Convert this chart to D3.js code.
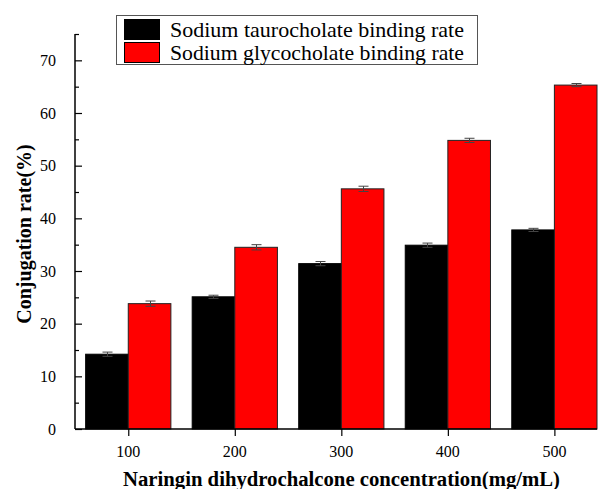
<!DOCTYPE html>
<html>
<head>
<meta charset="utf-8">
<script src="https://cdn.jsdelivr.net/npm/d3@7/dist/d3.min.js"></script>
<style>
  html, body { margin: 0; padding: 0; background: #fff; }
  svg { display: block; }
</style>
</head>
<body>
<svg id="chart" width="600" height="489"></svg>
<script>
// Naringin dihydrochalcone concentrations (mg/mL)
const concentrations = [100, 200, 300, 400, 500];
// Binding rates (%) and their standard deviations
const taurocholate = [14.2, 25.1, 31.4, 34.9, 37.8];
const taurocholateErr = [0.4, 0.3, 0.4, 0.4, 0.3];
const glycocholate = [23.8, 34.5, 45.6, 54.8, 65.3];
const glycocholateErr = [0.5, 0.5, 0.5, 0.4, 0.3];
const seriesNames = ["Sodium taurocholate binding rate", "Sodium glycocholate binding rate"];
const seriesColors = ["#000000", "#ff0000"];
const yMajorTicks = [0, 10, 20, 30, 40, 50, 60, 70];
const yMinorTicks = [5, 15, 25, 35, 45, 55, 65, 75];
const xTitle = "Naringin dihydrochalcone concentration(mg/mL)";
const yTitle = "Conjugation rate(%)";

const serif = "'Liberation Serif', 'Times New Roman', serif";
const svg = d3.select("#chart");
const plotLeft = 75, plotRight = 597, plotTop = 34, plotBottom = 429;
const barW = 40; // bar width in concentration units

const x = d3.scaleLinear().domain([50, 540]).range([plotLeft, plotRight]);
const y = d3.scaleLinear().domain([0, 75]).range([plotBottom, plotTop]);

const series = [
  { name: seriesNames[0], color: seriesColors[0], values: taurocholate, err: taurocholateErr, offset: -barW, stroke: "#000" },
  { name: seriesNames[1], color: seriesColors[1], values: glycocholate, err: glycocholateErr, offset: 0, stroke: "#222" }
];

// Bars
series.forEach(s => {
  svg.append("g").selectAll("rect")
    .data(concentrations.map((c, i) => ({ c, v: s.values[i], e: s.err[i] })))
    .join("rect")
    .attr("x", d => x(d.c + s.offset))
    .attr("y", d => y(d.v))
    .attr("width", d => x(d.c + s.offset + barW) - x(d.c + s.offset))
    .attr("height", d => y(0) - y(d.v))
    .attr("fill", s.color)
    .attr("stroke", s.stroke)
    .attr("stroke-width", 1);
});

// Error bars
series.forEach(s => {
  const g = svg.append("g").attr("stroke", "#444").attr("stroke-width", 1).attr("fill", "none");
  concentrations.forEach((c, i) => {
    const cx = Math.round(x(c + s.offset + barW / 2)) + 0.5;
    const y1 = y(s.values[i] + s.err[i]), y2 = y(s.values[i] - s.err[i]);
    g.append("line").attr("x1", cx).attr("x2", cx).attr("y1", y1).attr("y2", y2);
    g.append("line").attr("x1", cx - 5).attr("x2", cx + 5).attr("y1", y1).attr("y2", y1);
    g.append("line").attr("x1", cx - 5).attr("x2", cx + 5).attr("y1", y2).attr("y2", y2);
  });
});

// Y axis (ticks point inward)
svg.append("g").attr("transform", `translate(${plotLeft},0)`)
  .call(d3.axisRight(y).tickValues(yMajorTicks).tickSize(7).tickFormat(""))
  .select(".domain").remove();
svg.append("g").attr("transform", `translate(${plotLeft},0)`)
  .call(d3.axisRight(y).tickValues(yMinorTicks).tickSize(4).tickFormat(""))
  .select(".domain").remove();
svg.append("line").attr("x1", plotLeft).attr("x2", plotLeft).attr("y1", plotTop).attr("y2", plotBottom)
  .attr("stroke", "#000").attr("stroke-width", 1.5);
svg.append("g").selectAll("text").data(yMajorTicks).join("text")
  .attr("x", 56).attr("y", d => y(d)).attr("dy", "0.36em")
  .attr("text-anchor", "end")
  .attr("font-family", serif).attr("font-size", 16)
  .text(d => d);

// X axis (ticks point outward)
svg.append("g").attr("transform", `translate(0,${plotBottom})`)
  .call(d3.axisBottom(x).tickValues(concentrations).tickSize(7).tickFormat(""))
  .select(".domain").remove();
svg.append("line").attr("x1", plotLeft).attr("x2", plotRight).attr("y1", plotBottom).attr("y2", plotBottom)
  .attr("stroke", "#000").attr("stroke-width", 1.5);
svg.append("g").selectAll("text").data(concentrations).join("text")
  .attr("x", d => x(d)).attr("y", 457)
  .attr("text-anchor", "middle")
  .attr("font-family", serif).attr("font-size", 16)
  .text(d => d);

svg.selectAll(".tick line").attr("stroke", "#000").attr("stroke-width", 1.2);

// Axis titles
svg.append("text").attr("x", 123).attr("y", 486)
  .attr("font-family", serif).attr("font-weight", "bold").attr("font-size", 20)
  .attr("textLength", 437).attr("lengthAdjust", "spacingAndGlyphs")
  .text(xTitle);
svg.append("text").attr("transform", "translate(31,234) rotate(-90)")
  .attr("text-anchor", "middle")
  .attr("font-family", serif).attr("font-weight", "bold").attr("font-size", 20)
  .text(yTitle);

// Legend
const legend = svg.append("g");
legend.append("rect").attr("x", 116.5).attr("y", 15.5).attr("width", 361).attr("height", 49)
  .attr("fill", "#fff").attr("stroke", "#555").attr("stroke-width", 1);
series.forEach((s, i) => {
  const ry = 19 + i * 23;
  legend.append("rect").attr("x", 124.5).attr("y", ry + 0.5).attr("width", 35).attr("height", 20)
    .attr("fill", s.color).attr("stroke", "#000").attr("stroke-width", 1);
  legend.append("text").attr("x", 170).attr("y", ry + 10).attr("dy", "0.36em")
    .attr("font-family", serif).attr("font-size", 21)
    .attr("textLength", 294).attr("lengthAdjust", "spacingAndGlyphs")
    .text(s.name);
});
</script>
</body>
</html>
